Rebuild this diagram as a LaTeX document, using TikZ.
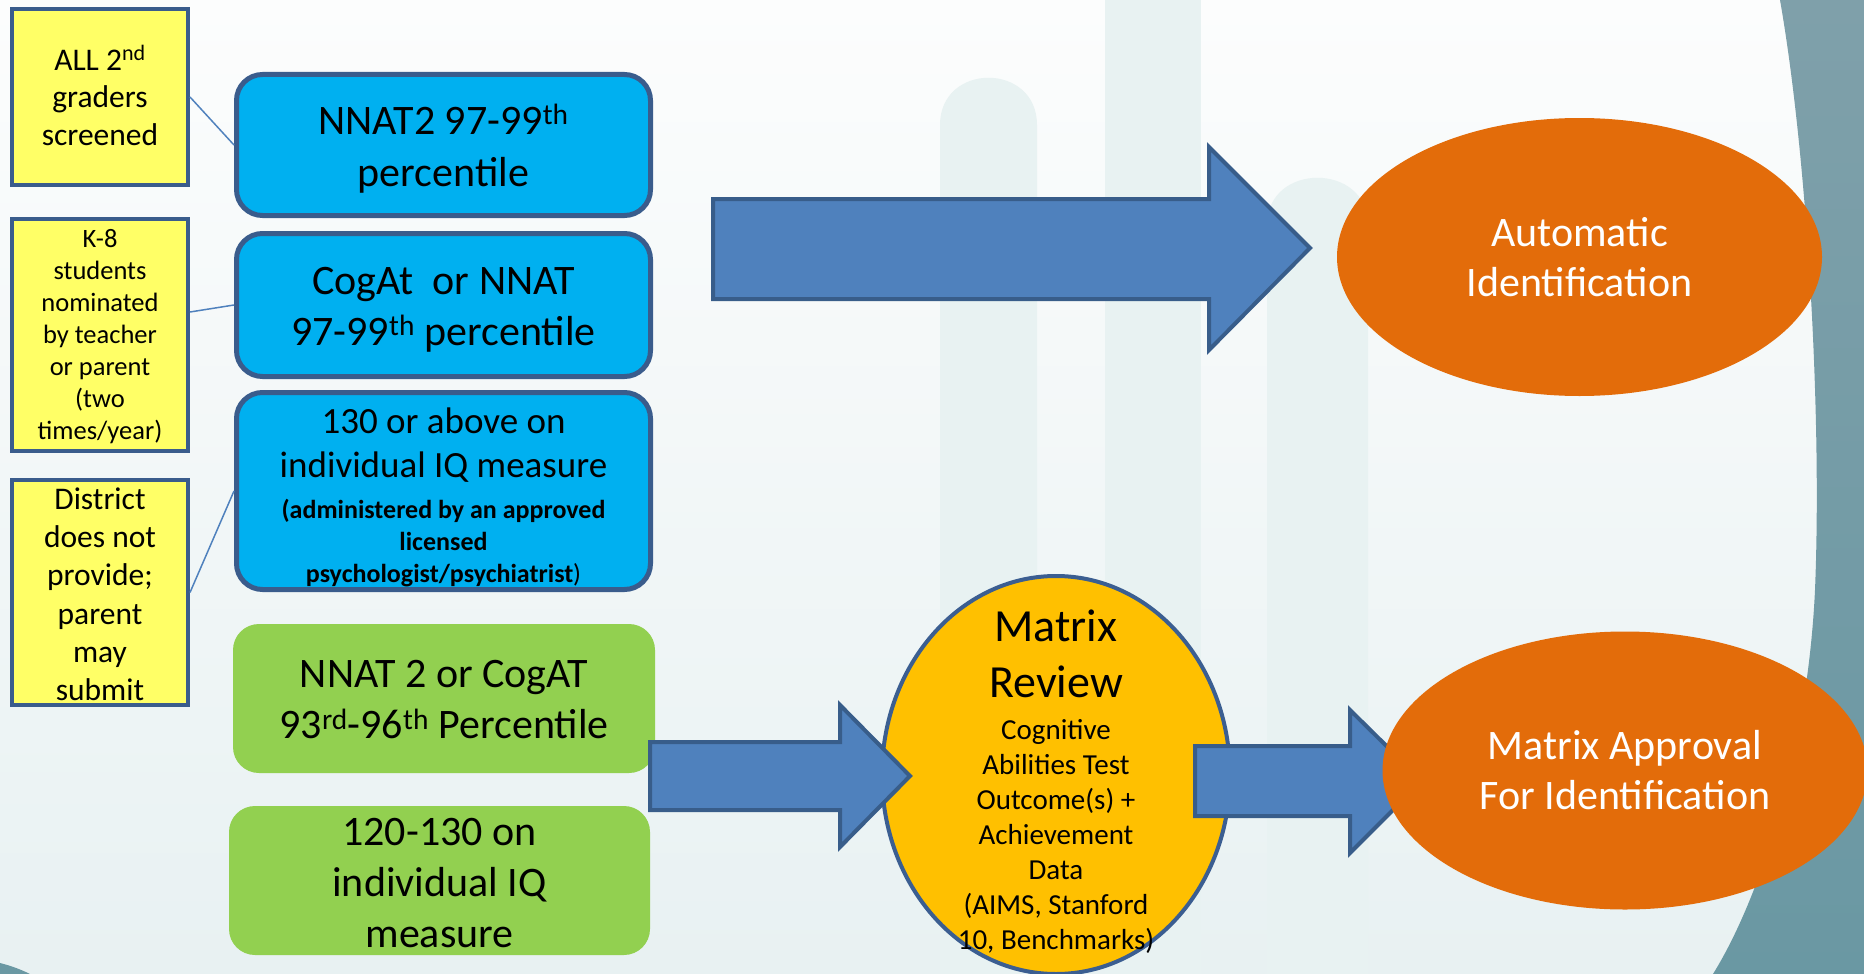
\documentclass[tikz,border=0pt]{standalone}
\usepackage{fontspec}
\setmainfont{Carlito}
\usetikzlibrary{shapes.geometric}
\definecolor{yfill}{HTML}{FFFF66}
\definecolor{dblue}{HTML}{3A5C8C}
\definecolor{cyanbox}{HTML}{00B0F0}
\definecolor{greenbox}{HTML}{92D050}
\definecolor{orng}{HTML}{E36C0A}
\definecolor{gold}{HTML}{FFC000}
\definecolor{mrline}{HTML}{3B5E91}
\definecolor{arrfill}{HTML}{4F81BD}
\definecolor{arrline}{HTML}{385D8A}
\definecolor{bgtop}{HTML}{FCFDFD}
\definecolor{bgbot}{HTML}{E8F1F2}
\definecolor{stripe}{HTML}{E8F2F2}
\definecolor{decotop}{HTML}{7FA0AA}
\definecolor{decomid}{HTML}{CDCFCF}
\definecolor{decobot}{HTML}{6A98A3}
% first line: fixed extent above its baseline; last line: fixed extent below its baseline
\newcommand{\firstl}[2]{\smash{#2}\rule{0pt}{#1}}
\newcommand{\lastl}[2]{\smash{#2}\rule[-#1]{0pt}{#1}}
\begin{document}
\begin{tikzpicture}[x=1pt,y=-1pt,
  ybox/.style={draw=dblue,line width=4pt,fill=yfill,inner sep=0pt,align=center,minimum width=176pt},
  bbox/.style={draw=dblue,line width=5pt,fill=cyanbox,rounded corners=26pt,inner sep=0pt,align=center,minimum width=414pt},
  gbox/.style={fill=greenbox,rounded corners=26pt,inner sep=0pt,align=center},
  oval/.style={ellipse,fill=orng,text=white,inner sep=0pt,align=center,minimum width=485pt,minimum height=278pt,font=\fontsize{42}{50}\selectfont},
  conn/.style={draw=arrfill,line width=1.5pt},
  barrow/.style={fill=arrfill,draw=arrline,line width=4pt,line join=miter},
]
\useasboundingbox (0,0) rectangle (1864,974);
% background
\shade[top color=bgtop,bottom color=bgbot] (0,0) rectangle (1864,974);
\fill[stripe] (940,974) -- (940,125) .. controls (940,62) and (1037,62) .. (1037,125) -- (1037,974) -- cycle;
\fill[stripe] (1105,0) rectangle (1201,974);
\fill[stripe] (1267,974) -- (1267,225) .. controls (1267,162) and (1368,162) .. (1368,225) -- (1368,974) -- cycle;
\shade[top color=decotop,middle color=decomid,bottom color=decobot] (1780,0) .. controls (1808,160) and (1822,420) .. (1815,590) .. controls (1808,740) and (1765,890) .. (1713,974) -- (1864,974) -- (1864,0) -- cycle;
\fill[decobot] (0,963) .. controls (12,966) and (22,970) .. (30,974) -- (0,974) -- cycle;

% yellow boxes
\node[ybox,minimum height=176pt,font=\fontsize{31.5}{37.7}\selectfont] (y1) at (100,97) {\firstl{21.4pt}{ALL 2\textsuperscript{nd}}\\graders\\\lastl{0pt}{screened}};
\node[ybox,minimum height=232.5pt,font=\fontsize{26.5}{31.9}\selectfont] (y2) at (100,335) {\firstl{17.3pt}{K-8}\\students\\nominated\\by teacher\\or parent\\(two\\\lastl{0pt}{times/year)}};
\node[ybox,minimum height=225pt,font=\fontsize{31.5}{38.3}\selectfont] (y3) at (100,592.5) {\firstl{25pt}{District}\\does not\\provide;\\parent\\may\\\lastl{0pt}{submit}};

% blue boxes
\node[bbox,minimum height=141pt,font=\fontsize{42}{52}\selectfont] (b1) at (443.5,145) {\firstl{30pt}{NNAT2 97-99\textsuperscript{th}}\\\lastl{0pt}{percentile}};
\node[bbox,minimum height=143pt,font=\fontsize{42}{51}\selectfont] (b2) at (443.5,305) {\firstl{29pt}{CogAt\ \ or NNAT}\\\lastl{0pt}{97-99\textsuperscript{th} percentile}};
\node[bbox,minimum height=197pt,font=\fontsize{37}{44.8}\selectfont] (b3) at (443.5,491) {\firstl{33.5pt}{130 or above on}\\individual IQ measure\\[-4.7pt]{\fontsize{26}{32}\selectfont\textbf{(administered by an approved}}\\[-12.6pt]{\fontsize{26}{32}\selectfont\textbf{licensed}}\\[-12.6pt]\lastl{0pt}{\fontsize{26}{32}\selectfont\textbf{psychologist/psychiatrist})}};

% connectors
\draw[conn] (y1.east) -- (b1.west);
\draw[conn] ([yshift=23pt]y2.east) -- (b2.west);
\draw[conn] (y3.east) -- (b3.west);

% green boxes
\node[gbox,minimum width=422pt,minimum height=149pt,font=\fontsize{42}{51}\selectfont] (g1) at (444,698.5) {\firstl{29pt}{NNAT 2 or CogAT}\\\lastl{0pt}{93\textsuperscript{rd}-96\textsuperscript{th} Percentile}};
\node[gbox,minimum width=421pt,minimum height=149pt,font=\fontsize{42}{51.15}\selectfont] (g2) at (439.5,880.5) {\firstl{31.5pt}{120-130 on}\\individual IQ\\\lastl{0pt}{measure}};

% big arrow to automatic identification
\draw[barrow] (713,199) -- (1209,199) -- (1209,147) -- (1310,248) -- (1209,350) -- (1209,299) -- (713,299) -- cycle;
\node[oval] (auto) at (1579.5,257) {Automatic\\Identification};

% matrix review
\node[ellipse,draw=mrline,line width=4pt,fill=gold,minimum width=348pt,minimum height=398pt,inner sep=0pt] (mr) at (1056,775) {};
\draw[barrow] (650,742) -- (840,742) -- (840,705) -- (910,776) -- (840,847) -- (840,810) -- (650,810) -- cycle;
\draw[barrow] (1195,746) -- (1350,746) -- (1350,710) -- (1422,781) -- (1350,853) -- (1350,816) -- (1195,816) -- cycle;
\node[oval] (ma) at (1625,770.5) {Matrix Approval\\For Identification};
\node[align=center,inner sep=0pt,font=\fontsize{46}{56}\selectfont] (mrtext) at (1056,781.5) {Matrix\\Review\\[-14pt]{\fontsize{29}{35}\selectfont Cognitive}\\[-21pt]{\fontsize{29}{35}\selectfont Abilities Test}\\[-21pt]{\fontsize{29}{35}\selectfont Outcome(s) +}\\[-21pt]{\fontsize{29}{35}\selectfont Achievement}\\[-21pt]{\fontsize{29}{35}\selectfont Data}\\[-21pt]{\fontsize{29}{35}\selectfont (AIMS, Stanford}\\[-21pt]{\fontsize{29}{35}\selectfont 10, Benchmarks)}};
\end{tikzpicture}
\end{document}
